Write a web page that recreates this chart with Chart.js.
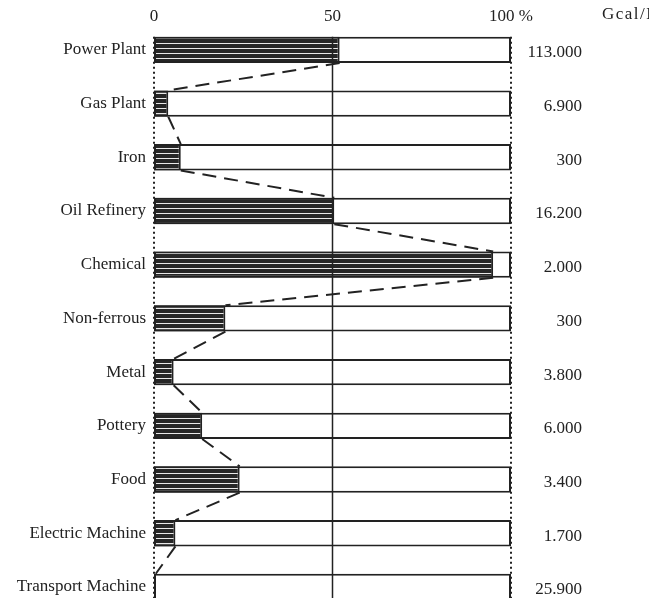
<!DOCTYPE html>
<html>
<head>
<meta charset="utf-8">
<script src="https://cdn.jsdelivr.net/npm/chart.js@4.4.1/dist/chart.umd.min.js"></script>
<style>
    html, body { margin: 0; padding: 0; background: #fff; overflow: hidden; }
    #wrap { width: 649px; height: 598px; overflow: hidden; }
</style>
</head>
<body>
<div id="wrap">
    <canvas id="energyChart" width="649" height="624"></canvas>
</div>
<script>
const industries = ["Power Plant", "Gas Plant", "Iron", "Oil Refinery", "Chemical", "Non-ferrous",
    "Metal", "Pottery", "Food", "Electric Machine", "Transport Machine"];
// hatched share of each bar, %
const sharePct = [52, 4, 7.5, 50.5, 95, 20, 5.5, 13.5, 24, 6, 0.5];
const fullPct = [100, 100, 100, 100, 100, 100, 100, 100, 100, 100, 100];
// right column, Gcal/D
const gcalPerDay = ["113.000", "6.900", "300", "16.200", "2.000", "300", "3.800", "6.000", "3.400", "1.700", "25.900"];
const xTickValues = [0, 50, 100];
const xTickLabels = ["0", "50", "100 %"];
const unitLabel = "Gcal/D";

const ink = "#222";
const serif = "'Liberation Serif', 'Times New Roman', serif";

function hatchPattern() {
    const c = document.createElement("canvas");
    c.width = 8;
    c.height = 5;
    const g = c.getContext("2d");
    g.fillStyle = "#262626";
    g.fillRect(0, 0, 8, 5);
    g.fillStyle = "#e8e8e8";
    g.fillRect(0, 3, 8, 1);
    return g.createPattern(c, "repeat");
}

function drawRefLine(chart, v, dash, width) {
    const ctx = chart.ctx;
    const first = chart.getDatasetMeta(0).data[0];
    const px = chart.scales.x.getPixelForValue(v);
    ctx.save();
    ctx.strokeStyle = ink;
    ctx.lineWidth = width;
    ctx.setLineDash(dash);
    ctx.beginPath();
    ctx.moveTo(px, first.y - first.height / 2);
    ctx.lineTo(px, chart.chartArea.bottom);
    ctx.stroke();
    ctx.restore();
}

const refLines = {
    id: "refLines",
    beforeDatasetsDraw(chart) {
        // dotted edges at 0 and 100 %
        drawRefLine(chart, xTickValues[0], [2, 3], 2);
        drawRefLine(chart, xTickValues[2], [2, 3], 2);
    },
    afterDatasetsDraw(chart) {
        const ctx = chart.ctx;
        const bars = chart.getDatasetMeta(0).data;
        // 50 % line runs through the bars
        drawRefLine(chart, xTickValues[1], [], 1.5);
        // dashed zigzag between the ends of the hatched bars
        ctx.save();
        ctx.strokeStyle = ink;
        ctx.lineWidth = 2;
        ctx.setLineDash([14, 8]);
        for (let i = 0; i < bars.length - 1; i++) {
            const a = bars[i], b = bars[i + 1];
            ctx.beginPath();
            ctx.moveTo(a.x, a.y + a.height / 2);
            ctx.lineTo(b.x, b.y - b.height / 2);
            ctx.stroke();
        }
        ctx.setLineDash([]);
        // Gcal/D column
        ctx.fillStyle = ink;
        ctx.font = "17px " + serif;
        ctx.textAlign = "right";
        ctx.textBaseline = "middle";
        bars.forEach((bar, i) => {
            ctx.fillText(gcalPerDay[i], 582, bar.y + 3);
        });
        ctx.textAlign = "left";
        ctx.letterSpacing = "1.5px";
        ctx.fillText(unitLabel, 602, 15);
        ctx.restore();
    }
};

const ctx = document.getElementById("energyChart").getContext("2d");
new Chart(ctx, {
    type: "bar",
    data: {
        labels: industries,
        datasets: [{
            data: sharePct,
            backgroundColor: hatchPattern(),
            borderColor: ink,
            borderWidth: 2,
            borderSkipped: false,
            grouped: false,
            barPercentage: 1,
            categoryPercentage: 0.49
        }, {
            data: fullPct,
            backgroundColor: "#fff",
            borderColor: ink,
            borderWidth: 2,
            borderSkipped: false,
            grouped: false,
            barPercentage: 1,
            categoryPercentage: 0.49
        }]
    },
    options: {
        indexAxis: "y",
        responsive: false,
        animation: false,
        devicePixelRatio: 1,
        layout: { padding: { top: 1, right: 138, bottom: 1, left: 0 } },
        plugins: {
            legend: { display: false },
            tooltip: { enabled: false }
        },
        scales: {
            x: {
                position: "top",
                min: 0,
                max: 100,
                afterFit: s => { s.height = 22; },
                afterBuildTicks: s => { s.ticks = xTickValues.map(v => ({ value: v })); },
                ticks: {
                    color: ink,
                    font: { family: serif, size: 17 },
                    padding: -12,
                    callback: (v) => xTickLabels[xTickValues.indexOf(v)]
                },
                grid: { display: false },
                border: { display: false }
            },
            y: {
                afterFit: s => { s.width = 154; },
                ticks: {
                    color: ink,
                    font: { family: serif, size: 17 },
                    padding: 0
                },
                grid: { display: false },
                border: { display: false }
            }
        }
    },
    plugins: [refLines]
});
</script>
</body>
</html>
